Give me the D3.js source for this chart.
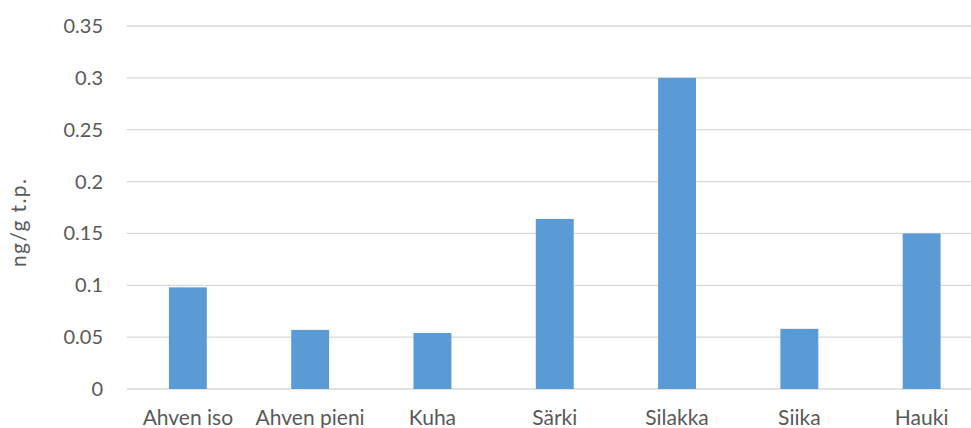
<!DOCTYPE html>
<html>
<head>
<meta charset="utf-8">
<script src="https://cdn.jsdelivr.net/npm/d3@7"></script>
<style>
  html, body { margin: 0; padding: 0; background: #fff; }
  svg { display: block; }
  text { font-family: Lato, "Open Sans", sans-serif; fill: #595959; }
</style>
</head>
<body>
<svg id="chart" width="971" height="428"></svg>
<script>
const categories = ["Ahven iso", "Ahven pieni", "Kuha", "Särki", "Silakka", "Siika", "Hauki"];
const values = [0.098, 0.057, 0.054, 0.164, 0.300, 0.058, 0.150];
const yTicks = [0, 0.05, 0.1, 0.15, 0.2, 0.25, 0.3, 0.35];
const yTitle = "ng/g t.p.";

const svg = d3.select("#chart");
const plotLeft = 126.7, plotRight = 982.8, plotTop = 26, plotBottom = 389;

const x = d3.scaleBand().domain(categories).range([plotLeft, plotRight])
  .paddingInner(0.69).paddingOuter(0.345);
const y = d3.scaleLinear().domain([0, 0.35]).range([plotBottom, plotTop]);

// horizontal gridlines
svg.append("g").selectAll("line").data(yTicks).join("line")
  .attr("x1", plotLeft).attr("x2", plotRight)
  .attr("y1", d => y(d)).attr("y2", d => y(d))
  .attr("stroke", "#d9d9d9").attr("stroke-width", 1.3);

// value axis labels
svg.append("g").selectAll("text").data(yTicks).join("text")
  .attr("x", 103).attr("y", d => y(d))
  .attr("dy", "0.35em").attr("text-anchor", "end")
  .style("font-size", "20px")
  .text(d => String(d));

// bars
svg.append("g").selectAll("rect").data(values).join("rect")
  .attr("x", (d, i) => x(categories[i]))
  .attr("width", x.bandwidth())
  .attr("y", d => y(d))
  .attr("height", d => y(0) - y(d))
  .attr("fill", "#5b9bd5");

// category labels
svg.append("g").selectAll("text").data(categories).join("text")
  .attr("x", d => x(d) + x.bandwidth() / 2).attr("y", 425)
  .attr("text-anchor", "middle")
  .style("font-size", "21px")
  .text(d => d);

// value axis title
svg.append("text")
  .attr("transform", "translate(26,223) rotate(-90)")
  .attr("text-anchor", "middle")
  .attr("textLength", 88).attr("lengthAdjust", "spacing")
  .style("font-size", "21px")
  .text(yTitle);
</script>
</body>
</html>
